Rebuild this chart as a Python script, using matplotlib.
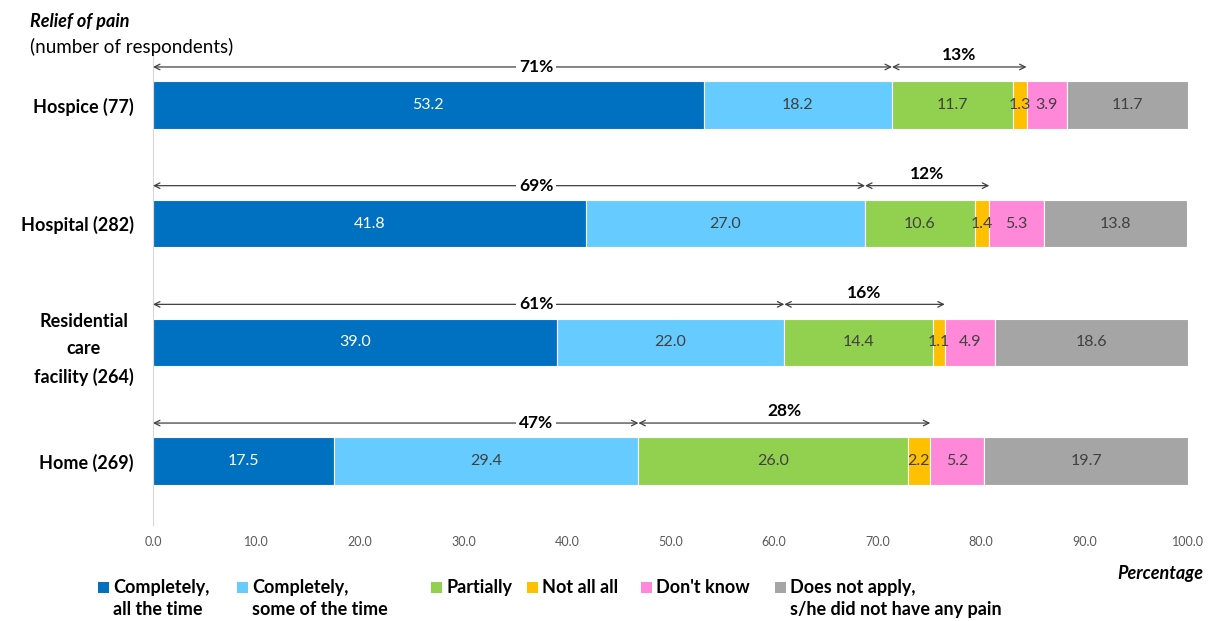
import numpy as np
import matplotlib.pyplot as plt
from matplotlib.patches import Rectangle

plt.rcParams['font.family'] = ['Lato', 'DejaVu Sans']

# dados do grafico (de cima para baixo)
locais = ["Hospice (77)", "Hospital (282)", "Residential\ncare\nfacility (264)", "Home (269)"]
categorias = ["Completely,\nall the time", "Completely,\nsome of the time", "Partially",
              "Not all all", "Don't know", "Does not apply,\ns/he did not have any pain"]
comp_all = [53.2, 41.8, 39.0, 17.5]
comp_some = [18.2, 27.0, 22.0, 29.4]
parcial = [11.7, 10.6, 14.4, 26.0]
nao = [1.3, 1.4, 1.1, 2.2]
nao_sei = [3.9, 5.3, 4.9, 5.2]
nao_aplica = [11.7, 13.8, 18.6, 19.7]
pct_completo = ["71%", "69%", "61%", "47%"]
pct_parcial = ["13%", "12%", "16%", "28%"]
xticks = np.arange(0, 101, 10)

cores = ["#0070C0", "#66CCFF", "#92D050", "#FFC000", "#FF89D8", "#A5A5A5"]
series = [comp_all, comp_some, parcial, nao, nao_sei, nao_aplica]

fig = plt.figure(figsize=(12.1, 6.21), dpi=100)
ax = fig.add_axes([153/1210, 96/621, 1035/1210, 475/621])

ypos = np.arange(len(locais))[::-1]  # Hospice em cima
esquerda = np.zeros(len(locais))
for i, vals in enumerate(series):
    vals = np.array(vals)
    ax.barh(ypos, vals, left=esquerda, height=0.40, color=cores[i], edgecolor='white', linewidth=0.8)
    for y, l, v in zip(ypos, esquerda, vals):
        cor_txt = 'white' if i == 0 else '#404040'
        ax.text(l + v/2, y, f"{v:.1f}", ha='center', va='center', fontsize=11.5, color=cor_txt)
    esquerda += vals

# setas com os percentuais
for k, y in enumerate(ypos):
    a = comp_all[k] + comp_some[k]
    b = a + parcial[k] + nao[k]
    ya = y + 0.32
    ax.annotate('', xy=(0, ya), xytext=(a, ya),
                arrowprops=dict(arrowstyle='<->', color='#404040', lw=0.9, shrinkA=0, shrinkB=0))
    ax.annotate('', xy=(a, ya), xytext=(b, ya),
                arrowprops=dict(arrowstyle='<->', color='#404040', lw=0.9, shrinkA=0, shrinkB=0))
    ax.text(37, ya, pct_completo[k], ha='center', va='center', fontsize=12.5, fontweight='bold',
            bbox=dict(facecolor='white', edgecolor='none', pad=2))
    ax.text((a + b)/2, ya + 0.03, pct_parcial[k], ha='center', va='bottom', fontsize=12.5, fontweight='bold')

ax.set_xlim(0, 100)
ax.set_ylim(-0.539, 3.463)
ax.set_xticks(xticks)
ax.set_xticklabels([f"{t:.1f}" for t in xticks], fontsize=9, color='#595959')
ax.set_yticks(ypos)
ax.set_yticklabels(locais, fontsize=13, fontweight='bold', multialignment='center')
for lbl in ax.get_yticklabels():
    lbl.set_linespacing(1.75)
ax.tick_params(axis='both', length=0)
ax.tick_params(axis='y', pad=14)
ax.tick_params(axis='x', pad=8)
for s in ['top', 'right', 'bottom']:
    ax.spines[s].set_visible(False)
ax.spines['left'].set_color('#D9D9D9')

# titulo
fig.text(30/1210, 1 - 22/621, "Relief of pain", fontsize=13, fontweight='bold', fontstyle='italic', va='center')
fig.text(30/1210, 1 - 47/621, "(number of respondents)", fontsize=13.5, va='center')
fig.text(1203/1210, 1 - 573/621, "Percentage", fontsize=13, fontweight='bold', fontstyle='italic',
         ha='right', va='center')

# legenda manual
xs_leg = [98, 237, 431, 527, 641, 775]
for xl, cor, nome in zip(xs_leg, cores, categorias):
    fig.patches.append(Rectangle((xl/1210, 1 - 593/621), 11/1210, 11/621, transform=fig.transFigure,
                                 facecolor=cor, edgecolor='none'))
    fig.text((xl + 15)/1210, 1 - 579/621, nome, fontsize=13, fontweight='bold', va='top',
             linespacing=1.35)

plt.savefig("out.png", dpi=100)
